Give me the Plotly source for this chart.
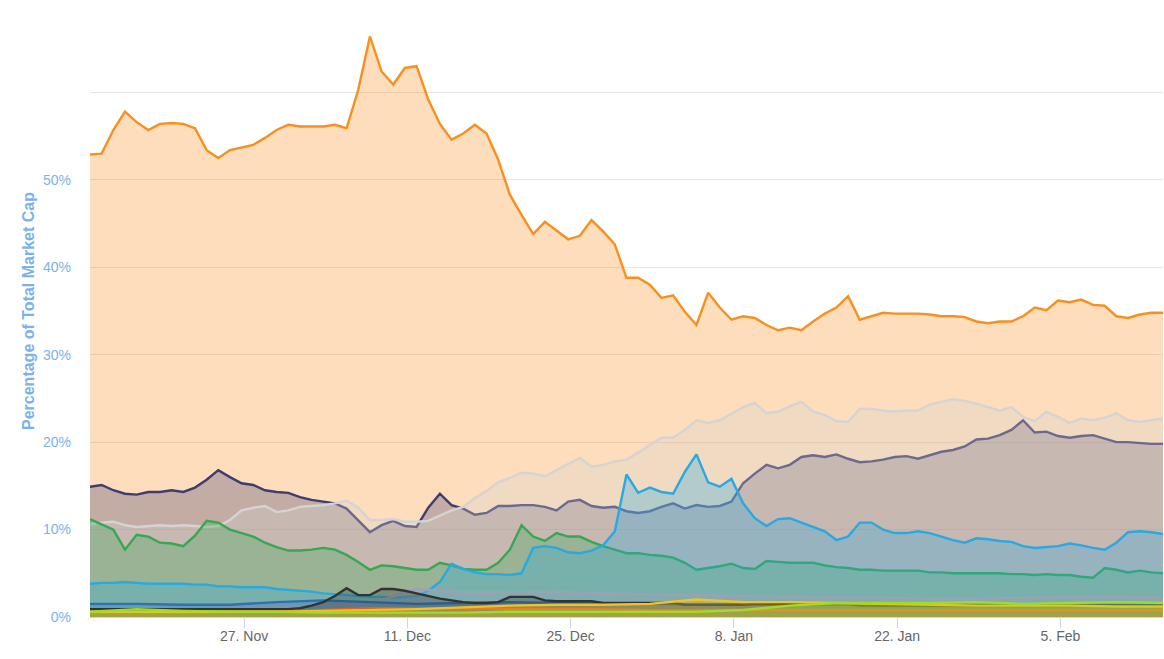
import pandas as pd
import plotly.graph_objects as go

# ---- data (percentage of total market cap) ----
dates = pd.date_range("2017-11-13 19:00", periods=93, freq="D")
coarse_idx = list(range(0, 93, 4))
coarse_dates = dates[coarse_idx]

bitcoin = [52.9, 53.0, 55.7, 57.8, 56.6, 55.7, 56.4, 56.5, 56.4, 55.9,
           53.4, 52.5, 53.4, 53.7, 54.0, 54.8, 55.7, 56.3, 56.1, 56.1,
           56.1, 56.3, 55.9, 60.3, 66.4, 62.4, 60.9, 62.8, 63.0, 59.2,
           56.4, 54.6, 55.3, 56.3, 55.3, 52.3, 48.3, 46.0, 43.8, 45.2,
           44.2, 43.2, 43.6, 45.4, 44.1, 42.6, 38.8, 38.8, 38.0, 36.5,
           36.8, 34.9, 33.4, 37.1, 35.4, 34.0, 34.4, 34.2, 33.4, 32.8,
           33.1, 32.8, 33.8, 34.7, 35.4, 36.7, 34.0, 34.4, 34.8, 34.7,
           34.7, 34.7, 34.6, 34.4, 34.4, 34.3, 33.8, 33.6, 33.8, 33.8,
           34.4, 35.4, 35.1, 36.2, 36.0, 36.3, 35.7, 35.6, 34.4, 34.2,
           34.6, 34.8, 34.8]

ethereum = [14.9, 15.1, 14.5, 14.1, 14.0, 14.3, 14.3, 14.5, 14.3, 14.8,
            15.7, 16.8, 16.0, 15.3, 15.1, 14.5, 14.3, 14.2, 13.7, 13.4,
            13.2, 13.0, 12.4, 11.1, 9.7, 10.5, 11.0, 10.4, 10.3, 12.5,
            14.1, 12.8, 12.4, 11.7, 11.9, 12.7, 12.7, 12.8, 12.8, 12.6,
            12.2, 13.2, 13.4, 12.7, 12.5, 12.6, 12.1, 11.9, 12.1, 12.6,
            13.0, 12.4, 12.8, 12.6, 12.7, 13.2, 15.3, 16.4, 17.4, 17.0,
            17.4, 18.3, 18.5, 18.3, 18.6, 18.1, 17.7, 17.8, 18.0, 18.3,
            18.4, 18.1, 18.5, 18.9, 19.1, 19.5, 20.3, 20.4, 20.8, 21.4,
            22.5, 21.1, 21.2, 20.7, 20.5, 20.7, 20.8, 20.4, 20.0, 20.0,
            19.9, 19.8, 19.8]

others = [10.6, 10.8, 10.9, 10.5, 10.3, 10.4, 10.5, 10.4, 10.5, 10.4,
          10.3, 10.4, 11.1, 12.2, 12.5, 12.7, 12.0, 12.2, 12.6, 12.7,
          12.8, 13.0, 13.3, 12.5, 11.1, 11.1, 11.2, 10.9, 10.9, 11.0,
          11.6, 12.2, 12.6, 13.6, 14.4, 15.4, 15.9, 16.5, 16.4, 16.1,
          16.8, 17.5, 18.2, 17.2, 17.4, 17.8, 18.0, 18.8, 19.7, 20.5,
          20.5, 21.4, 22.5, 22.2, 22.5, 23.3, 24.0, 24.5, 23.3, 23.5,
          24.1, 24.6, 23.5, 23.1, 22.4, 22.3, 23.8, 23.8, 23.6, 23.5,
          23.6, 23.6, 24.3, 24.6, 24.9, 24.7, 24.4, 24.0, 23.6, 24.0,
          22.9, 22.4, 23.5, 22.9, 22.2, 22.7, 22.5, 22.8, 23.3, 22.5,
          22.3, 22.5, 22.7]

bitcoin_cash = [11.2, 10.6, 10.0, 7.7, 9.4, 9.2, 8.5, 8.4, 8.1, 9.3,
                11.0, 10.8, 10.0, 9.6, 9.2, 8.5, 8.0, 7.6, 7.6, 7.7,
                7.9, 7.7, 7.1, 6.3, 5.4, 5.9, 5.8, 5.6, 5.4, 5.4,
                6.2, 5.9, 5.5, 5.4, 5.4, 6.2, 7.7, 10.5, 9.2, 8.7,
                9.6, 9.2, 9.2, 8.6, 8.1, 7.7, 7.3, 7.3, 7.1, 7.0,
                6.8, 6.2, 5.4, 5.6, 5.8, 6.1, 5.6, 5.5, 6.4, 6.3,
                6.2, 6.2, 6.2, 5.9, 5.7, 5.6, 5.4, 5.4, 5.3, 5.3,
                5.3, 5.3, 5.1, 5.1, 5.0, 5.0, 5.0, 5.0, 5.0, 4.9,
                4.9, 4.8, 4.9, 4.8, 4.8, 4.6, 4.5, 5.6, 5.4, 5.1,
                5.3, 5.1, 5.0]

ripple = [3.8, 3.9, 3.9, 4.0, 3.9, 3.8, 3.8, 3.8, 3.8, 3.7,
          3.7, 3.5, 3.5, 3.4, 3.4, 3.4, 3.2, 3.1, 3.0, 2.9,
          2.7, 2.6, 2.5, 2.4, 2.3, 2.3, 2.2, 2.3, 2.4, 3.0,
          4.0, 6.1, 5.5, 5.1, 4.9, 4.9, 4.8, 5.0, 7.9, 8.1,
          7.9, 7.4, 7.3, 7.6, 8.2, 9.8, 16.3, 14.2, 14.8, 14.3,
          14.1, 16.6, 18.6, 15.4, 14.9, 15.8, 13.0, 11.3, 10.4, 11.2,
          11.3, 10.8, 10.3, 9.8, 8.8, 9.2, 10.8, 10.8, 10.0, 9.6,
          9.6, 9.8, 9.6, 9.2, 8.8, 8.5, 9.0, 8.9, 8.7, 8.6,
          8.1, 7.9, 8.0, 8.1, 8.4, 8.2, 7.9, 7.7, 8.5, 9.7,
          9.8, 9.7, 9.5]

iota = [0.9, 0.9, 0.9, 0.9, 0.9, 0.9, 0.9, 0.9, 0.9, 0.9,
        0.9, 0.9, 0.9, 0.9, 0.9, 0.9, 0.9, 0.9, 1.0, 1.3,
        1.7, 2.4, 3.3, 2.5, 2.5, 3.2, 3.2, 3.0, 2.7, 2.4,
        2.1, 1.9, 1.7, 1.6, 1.6, 1.7, 2.3, 2.3, 2.3, 1.9,
        1.8, 1.8, 1.8, 1.8, 1.6, 1.6, 1.6, 1.6, 1.6, 1.6,
        1.6, 1.4, 1.4, 1.4, 1.4, 1.4, 1.4, 1.5, 1.5, 1.5,
        1.5, 1.5, 1.5, 1.5, 1.5, 1.5, 1.3, 1.3, 1.3, 1.3,
        1.3, 1.3, 1.3, 1.3, 1.3, 1.3, 1.3, 1.3, 1.3, 1.3,
        1.3, 1.3, 1.3, 1.3, 1.3, 1.3, 1.3, 1.3, 1.3, 1.3,
        1.3, 1.3, 1.3]

# coarse series (every 4th day)
dash = [1.5, 1.5, 1.4, 1.4, 1.7, 1.9, 1.7, 1.5, 1.6, 1.7, 1.6, 1.5,
        1.5, 1.4, 1.4, 1.4, 1.4, 1.4, 1.4, 1.4, 1.4, 1.4, 1.4, 1.4]
litecoin = [1.0, 1.0, 1.0, 1.1, 1.2, 1.3, 1.5, 3.2, 2.8, 2.8, 2.9, 2.7,
            2.6, 2.5, 2.4, 2.3, 2.2, 2.2, 2.1, 2.1, 2.2, 2.3, 2.3, 2.2]
monero = [0.5, 0.5, 0.5, 0.6, 0.6, 0.8, 1.0, 1.0, 1.0, 0.9, 0.9, 0.9,
          0.8, 0.8, 0.8, 0.8, 0.8, 0.8, 0.8, 0.8, 0.8, 0.8, 0.8, 0.8]
cardano = [0.6, 0.6, 0.6, 0.6, 0.6, 0.7, 0.8, 0.9, 1.1, 1.3, 1.4, 1.4,
           1.5, 2.0, 1.7, 1.7, 1.6, 1.5, 1.4, 1.3, 1.3, 1.3, 1.2, 1.2]
neo = [0.6, 0.9, 0.7, 0.6, 0.6, 0.5, 0.5, 0.5, 0.5, 0.6, 0.6, 0.6,
       0.6, 0.6, 0.8, 1.3, 1.6, 1.6, 1.6, 1.7, 1.5, 1.6, 1.7, 1.6]

x_tick_dates = ["2017-11-27", "2017-12-11", "2017-12-25", "2018-01-08", "2018-01-22", "2018-02-05"]
x_tick_text = ["27. Nov", "11. Dec", "25. Dec", "8. Jan", "22. Jan", "5. Feb"]
y_tick_vals = [0, 10, 20, 30, 40, 50, 60]
y_tick_text = ["0%", "10%", "20%", "30%", "40%", "50%", ""]

# ---- styling ----
def rgba(hex_color, a):
    h = hex_color.lstrip("#")
    r, g, b = int(h[0:2], 16), int(h[2:4], 16), int(h[4:6], 16)
    return f"rgba({r},{g},{b},{a})"

series = [
    ("Bitcoin", dates, bitcoin, "#f7901e"),
    ("Ethereum", dates, ethereum, "#3e3c72"),
    ("Others", dates, others, "#d4d4d4"),
    ("Bitcoin Cash", dates, bitcoin_cash, "#34a853"),
    ("Ripple", dates, ripple, "#27a9e1"),
    ("Litecoin", coarse_dates, litecoin, "#9aa3b5"),
    ("Dash", coarse_dates, dash, "#2f6fb5"),
    ("IOTA", dates, iota, "#333333"),
    ("Monero", coarse_dates, monero, "#e2602a"),
    ("Cardano", coarse_dates, cardano, "#f5c21b"),
    ("NEO", coarse_dates, neo, "#9fdc2a"),
]

fig = go.Figure()
for name, xs, ys, col in series:
    fig.add_trace(go.Scatter(
        x=xs, y=ys, name=name, mode="lines",
        line=dict(color=col, width=2.4),
        fill="tozeroy", fillcolor=rgba(col, 0.3),
        hoverinfo="x+y+name",
    ))

label_font = "Liberation Sans, Arial, sans-serif"
fig.update_layout(
    width=1164, height=659,
    margin=dict(l=90, r=1, t=5, b=42, autoexpand=False),
    paper_bgcolor="white", plot_bgcolor="white",
    showlegend=False,
    font=dict(family=label_font),
)
fig.update_xaxes(
    range=[dates[0], dates[-1]],
    tickvals=x_tick_dates, ticktext=x_tick_text,
    ticks="outside", ticklen=10, tickcolor="#ccd6eb", tickwidth=1,
    showline=True, linecolor="#ccd6eb", linewidth=1,
    showgrid=False, zeroline=False, automargin=False,
    ticklabelstandoff=-4,
    tickfont=dict(size=14, color="#666666"),
)
fig.update_yaxes(
    range=[0, 70],
    tickvals=y_tick_vals, ticktext=y_tick_text,
    showgrid=True, gridcolor="#e6e6e6", gridwidth=1,
    zeroline=False, ticks="", ticklabelstandoff=18, automargin=False,
    tickfont=dict(size=14, color="#7cb2ea"),
    title=dict(text="<b>Percentage of Total Market Cap</b>", standoff=4,
               font=dict(size=16, color="#7cb2ea")),
)

fig.write_html("out.html", config={"displayModeBar": False},
               post_script="document.body.style.margin='0px';")
